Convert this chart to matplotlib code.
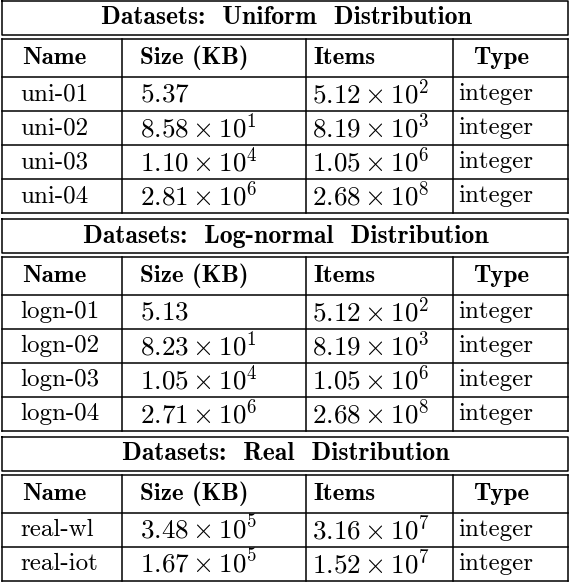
import matplotlib

matplotlib.use("Agg")
import matplotlib.pyplot as plt

plt.rcParams["mathtext.fontset"] = "cm"

titles = ["Datasets: Uniform Distribution", "Datasets: Log-normal Distribution",
          "Datasets: Real Distribution"]
headers = ["Name", "Size (KB)", "Items", "Type"]
names = [["uni-01", "uni-02", "uni-03", "uni-04"],
         ["logn-01", "logn-02", "logn-03", "logn-04"],
         ["real-wl", "real-iot"]]
sizes = [[r"5.37", r"8.58\times10^{1}", r"1.10\times10^{4}", r"2.81\times10^{6}"],
         [r"5.13", r"8.23\times10^{1}", r"1.05\times10^{4}", r"2.71\times10^{6}"],
         [r"3.48\times10^{5}", r"1.67\times10^{5}"]]
items = [[r"5.12\times10^{2}", r"8.19\times10^{3}", r"1.05\times10^{6}", r"2.68\times10^{8}"],
         [r"5.12\times10^{2}", r"8.19\times10^{3}", r"1.05\times10^{6}", r"2.68\times10^{8}"],
         [r"3.16\times10^{7}", r"1.52\times10^{7}"]]
types = [["integer"] * 4, ["integer"] * 4, ["integer"] * 2]

W, H = 572, 586
cols = [2, 122, 306, 453, 568]
text_x = [20, 140, 312, 458]
head_x = [22, 140, 313, 473]
title_h, row_h, gap = 34, 34, 4

fig = plt.figure(figsize=(W / 100, H / 100), dpi=100)
ax = fig.add_axes([0, 0, 1, 1])
ax.set_xlim(0, W)
ax.set_ylim(H, 0)
ax.axis("off")

lw = 1.1
reg = dict(family="cmr10", fontsize=18, va="center")
bold = dict(family="cmb10", fontsize=18, va="center")
math_fs = 19.5

y = 1
for t, nm, sz, it, tp in zip(titles, names, sizes, items, types):
    # title box
    ax.plot([cols[0], cols[-1], cols[-1], cols[0], cols[0]],
            [y, y, y + title_h, y + title_h, y], color="black", lw=lw)
    ax.text(W / 2, y + title_h / 2, t.replace(" ", "  "), ha="center",
            family="cmb10", fontsize=18.5, va="center")
    y += title_h + gap
    top = y
    n_rows = len(nm) + 1
    bottom = top + n_rows * row_h + 4
    for i in range(n_rows + 1):
        yy = top if i == 0 else top + i * row_h + 4
        ax.plot([cols[0], cols[-1]], [yy, yy], color="black", lw=lw)
    for cx in cols:
        ax.plot([cx, cx], [top, bottom], color="black", lw=lw)
    for hx, h in zip(head_x, headers):
        ax.text(hx, top + (row_h + 4) / 2, h, **bold)
    for r in range(len(nm)):
        cy = top + (r + 1) * row_h + 4 + row_h / 2
        ax.text(text_x[0], cy, nm[r], **reg)
        ax.text(text_x[1], cy, "$" + sz[r] + "$", fontsize=math_fs, va="center")
        ax.text(text_x[2], cy, "$" + it[r] + "$", fontsize=math_fs, va="center")
        ax.text(text_x[3], cy, tp[r], **reg)
    y = bottom + gap + 2

fig.savefig("out.png", dpi=100)
